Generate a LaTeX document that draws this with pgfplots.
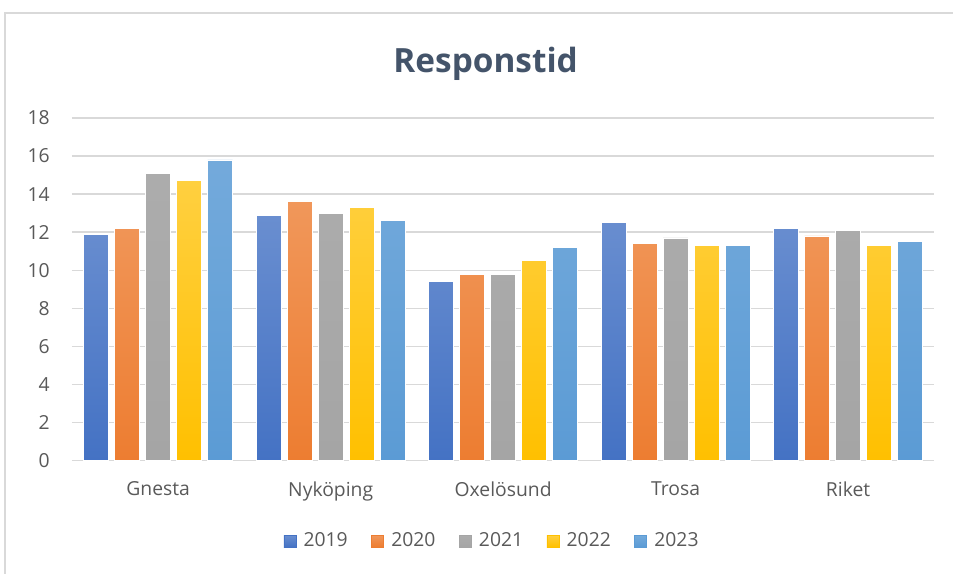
\documentclass[border=0pt]{standalone}
\usepackage{pgfplots}
\pgfplotsset{compat=1.18}
\usepackage{fontspec}
\setmainfont{Open Sans}
\definecolor{c19}{HTML}{4472C4}
\definecolor{c20}{HTML}{ED7D31}
\definecolor{c21}{HTML}{A5A5A5}
\definecolor{c22}{HTML}{FFC000}
\definecolor{c23}{HTML}{5B9BD5}
\definecolor{txt}{HTML}{595959}
\definecolor{ttl}{HTML}{44546A}
\definecolor{gridc}{HTML}{D9D9D9}

\begin{document}
\begin{tikzpicture}
% 1 px of the reference = 0.02cm
\path (0,0) rectangle (19.08,11.48);
\draw[gridc, line width=0.8pt] (0.1,0) -- (0.1,11.22) -- (19.08,11.22);
\node[font=\fontsize{19}{23}\selectfont\bfseries, text=ttl] at (9.72,10.2) {Responstid};
\begin{axis}[
    at={(1.44cm,2.26cm)}, anchor=south west,
    scale only axis,
    width=17.26cm, height=6.86cm,
    ybar=0.12cm,
    bar width=0.5cm,
    xmin=-0.5, xmax=4.5,
    ymin=0, ymax=18,
    xtick={0,...,4},
    xticklabels={Gnesta, Nyköping, Oxelösund, Trosa, Riket},
    ytick={0,2,...,18},
    axis line style={draw=none},
    major tick length=0,
    ymajorgrids,
    grid style={gridc, line width=0.8pt},
    tick label style={font=\fontsize{11}{13}\selectfont, text=txt},
    /pgf/number format/assume math mode=true,
    y tick label style={inner sep=0pt, xshift=-0.44cm},
    x tick label style={inner sep=0pt, anchor=north, yshift=-0.42cm},
    legend columns=5,
    legend style={
        at={(0.488,-0.235)}, anchor=center,
        draw=none, fill=none,
        font=\fontsize{11}{13}\selectfont, text=txt,
        /tikz/every even column/.append style={column sep=0.4cm},
        /tikz/every odd column/.append style={column sep=0.08cm},
    },
]
\addplot[draw=white, line width=0.3pt, top color=c19!80!white, bottom color=c19, legend image code/.code={\fill[c19] (0cm,-0.12cm) rectangle (0.24cm,0.12cm);}] coordinates {
    (0,11.9)(1,12.9)(2,9.4)(3,12.5)(4,12.2)};
\addplot[draw=white, line width=0.3pt, top color=c20!80!white, bottom color=c20, legend image code/.code={\fill[c20] (0cm,-0.12cm) rectangle (0.24cm,0.12cm);}] coordinates {
    (0,12.2)(1,13.6)(2,9.8)(3,11.4)(4,11.8)};
\addplot[draw=white, line width=0.3pt, top color=c21!92!white, bottom color=c21, legend image code/.code={\fill[c21] (0cm,-0.12cm) rectangle (0.24cm,0.12cm);}] coordinates {
    (0,15.1)(1,13.0)(2,9.8)(3,11.7)(4,12.1)};
\addplot[draw=white, line width=0.3pt, top color=c22!75!white, bottom color=c22, legend image code/.code={\fill[c22] (0cm,-0.12cm) rectangle (0.24cm,0.12cm);}] coordinates {
    (0,14.7)(1,13.3)(2,10.5)(3,11.3)(4,11.3)};
\addplot[draw=white, line width=0.3pt, top color=c23!85!white, bottom color=c23, legend image code/.code={\fill[c23] (0cm,-0.12cm) rectangle (0.24cm,0.12cm);}] coordinates {
    (0,15.8)(1,12.6)(2,11.2)(3,11.3)(4,11.5)};
\legend{2019, 2020, 2021, 2022, 2023}
\end{axis}
\end{tikzpicture}
\end{document}
